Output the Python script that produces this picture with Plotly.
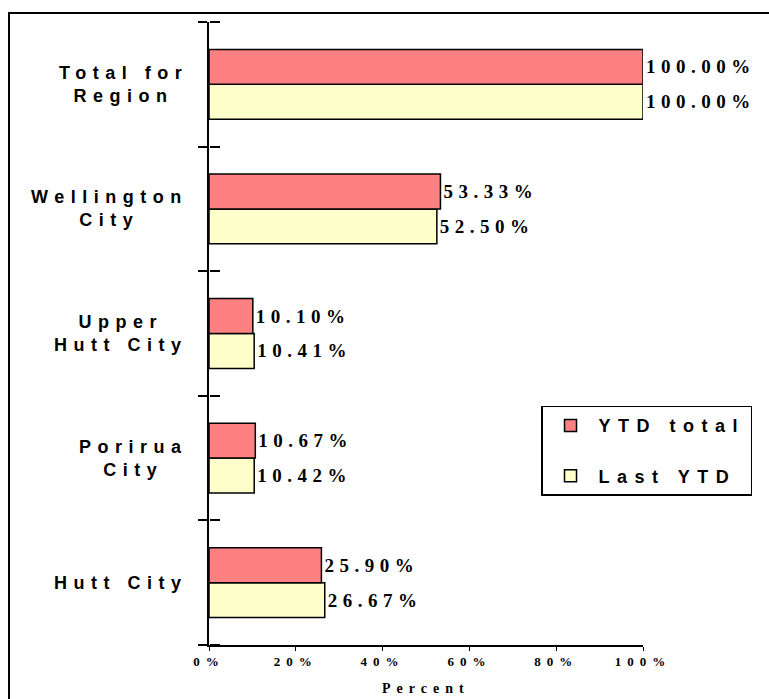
import plotly.graph_objects as go

categories = ["Hutt City", "Porirua City", "Upper Hutt City", "Wellington City", "Total for Region"]
category_labels = ["Hutt City", "Porirua<br>City", "Upper<br>Hutt City", "Wellington<br>City", "Total for<br>Region"]
ytd_total = [25.90, 10.67, 10.10, 53.33, 100.00]
last_ytd = [26.67, 10.42, 10.41, 52.50, 100.00]
x_tickvals = [0, 20, 40, 60, 80, 100]
x_ticktext = ["0%", "20%", "40%", "60%", "80%", "100%"]

RED = "#FF8080"
YEL = "#FFFFCC"
SERIF = "Liberation Serif, Times New Roman, serif"
SANS = "Liberation Sans, Arial, sans-serif"


def spaced(t, px):
    return '<span style="letter-spacing:%spx">%s</span>' % (px, t)


fig = go.Figure()
fig.add_trace(go.Bar(
    y=categories, x=last_ytd, orientation="h", name=spaced("Last YTD", 7.5),
    marker=dict(color=YEL, line=dict(color="black", width=1.5)),
    texttemplate=spaced("%{x:.2f}%", 5.5), textposition="outside",
    textfont=dict(family=SERIF, size=19, color="black", weight="bold"),
    cliponaxis=False, legendgroup="b", legendrank=2,
))
fig.add_trace(go.Bar(
    y=categories, x=ytd_total, orientation="h", name=spaced("YTD total", 7.5),
    marker=dict(color=RED, line=dict(color="black", width=1.5)),
    texttemplate=spaced("%{x:.2f}%", 5.5), textposition="outside",
    textfont=dict(family=SERIF, size=19, color="black", weight="bold"),
    cliponaxis=False, legendgroup="a", legendrank=1,
))
# empty trace that registers the overlay axis carrying the inner half of the tick marks
fig.add_trace(go.Scatter(x=[], y=[], yaxis="y2", showlegend=False, hoverinfo="skip"))

for cat, lab in zip(categories, category_labels):
    fig.add_annotation(
        x=-0.044, xref="paper", y=cat, yref="y", text=spaced(lab, 6.5),
        showarrow=False, xanchor="right", yanchor="middle", align="center",
        font=dict(family=SANS, size=18, color="black", weight="bold"),
    )

fig.add_annotation(
    x=0.5, xref="paper", y=-0.054, yref="paper", yanchor="top",
    text=spaced("Percent", 6), showarrow=False,
    font=dict(family=SERIF, size=14, color="black", weight="bold"),
)

# figure border (left and top edges visible)
fig.add_shape(type="rect", xref="paper", yref="paper",
              x0=-0.4608, x1=1.35, y0=-0.2, y1=1.0144,
              line=dict(color="black", width=2), fillcolor="rgba(0,0,0,0)", layer="above")

fig.update_layout(
    width=769, height=699,
    margin=dict(l=209, r=126, t=22, b=54),
    paper_bgcolor="white", plot_bgcolor="white",
    barmode="group", bargap=0.44, bargroupgap=0,
    showlegend=True,
    legend=dict(
        x=0.765, y=0.384, xanchor="left", yanchor="top",
        bordercolor="black", borderwidth=1.5, bgcolor="white",
        font=dict(family=SANS, size=18, color="black", weight="bold"),
        traceorder="grouped", tracegroupgap=24,
        itemwidth=46,
    ),
    xaxis=dict(
        range=[0, 100], tickvals=x_tickvals, ticktext=[spaced(t, 6) for t in x_ticktext],
        showgrid=False, zeroline=False, showline=True, linecolor="black", linewidth=1.5,
        ticks="outside", ticklen=4, tickcolor="black",
        tickfont=dict(family=SERIF, size=13, color="black", weight="bold"),
    ),
    yaxis=dict(
        type="category", categoryorder="array", categoryarray=categories,
        range=[-0.5, 4.5],
        showticklabels=False, showgrid=False, zeroline=False,
        showline=True, linecolor="black", linewidth=1.5,
        ticks="outside", tickson="boundaries", ticklen=9, tickcolor="black", tickwidth=1.5,
    ),
    yaxis2=dict(
        type="linear", overlaying="y", anchor="free", position=0, side="right",
        range=[-0.5, 4.5], tickvals=[-0.5, 0.5, 1.5, 2.5, 3.5, 4.5],
        showticklabels=False, showgrid=False, zeroline=False, showline=False,
        ticks="outside", ticklen=10, tickcolor="black", tickwidth=1.5,
    ),
)

fig.write_html("out.html", config={"displayModeBar": False},
               post_script="document.body.style.margin='0';document.body.style.padding='0';")
